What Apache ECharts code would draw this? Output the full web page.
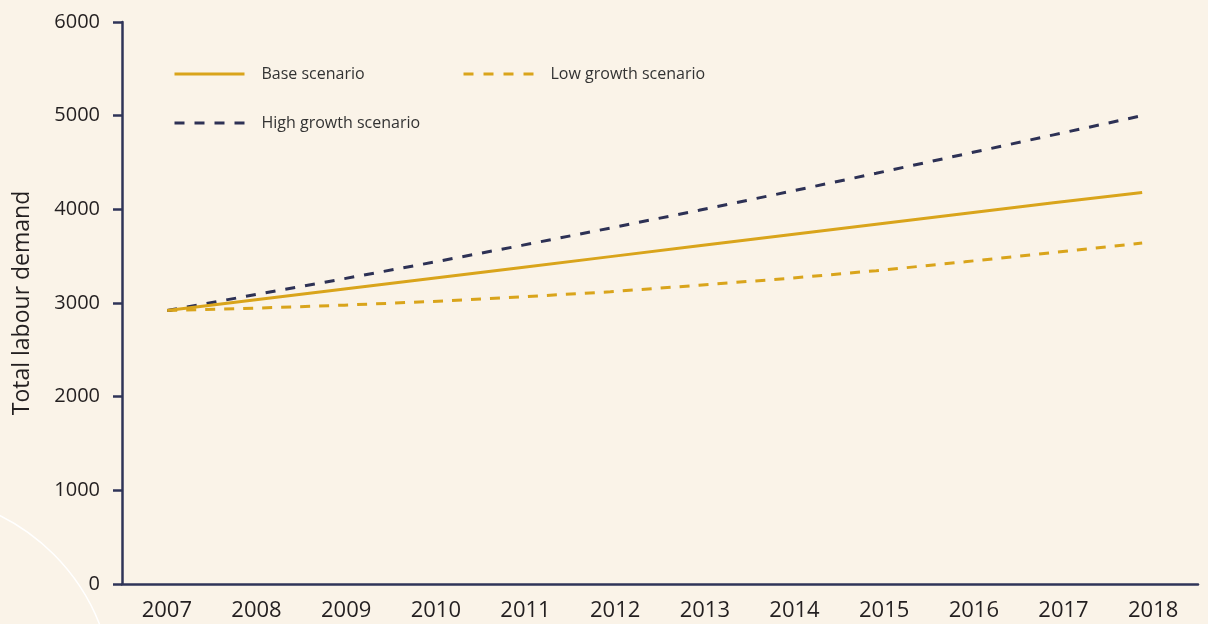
<!DOCTYPE html>
<html lang="en">
<head>
    <meta charset="UTF-8">
    <title>Total labour demand</title>
    <style>
        html, body { margin: 0; padding: 0; background: #FAF3E8; }
        #main { width: 1208px; height: 624px; }
    </style>
</head>
<body>
<div id="main"></div>
<script src="https://cdn.jsdelivr.net/npm/echarts@6/dist/echarts.min.js"></script>
<script>
    var years = ['2007', '2008', '2009', '2010', '2011', '2012', '2013', '2014', '2015', '2016', '2017', '2018'];
    var baseScenario = [2920, 3035, 3150, 3265, 3380, 3495, 3610, 3725, 3840, 3955, 4070, 4180];
    var lowGrowth = [2920, 2945, 2977, 3017, 3065, 3120, 3190, 3262, 3345, 3440, 3540, 3640];
    var highGrowth = [2920, 3090, 3260, 3435, 3615, 3800, 3990, 4185, 4385, 4590, 4795, 5000];
    var yTicks = [0, 1000, 2000, 3000, 4000, 5000, 6000];

    var gold = '#D9A41B';
    var navy = '#2D3155';
    var axisColor = '#2F3458';
    var fontName = 'Open Sans';

    function pairs(arr) {
        return arr.map(function (v, i) { return [Number(years[i]), v]; });
    }

    var myChart = echarts.init(document.getElementById('main'));

    // legend: only the line, no dot
    var legendBase = {
        itemWidth: 70, itemHeight: 14, padding: 0,
        itemStyle: { opacity: 0 },
        textStyle: { fontSize: 16, color: '#333', padding: [0, 0, 0, 12] }
    };

    var option = {
        backgroundColor: '#FAF3E8',
        textStyle: { fontFamily: fontName },
        graphic: [{
            type: 'circle',
            shape: { cx: -92, cy: 700, r: 206 },
            style: { fill: 'none', stroke: '#ffffff', lineWidth: 1.5 },
            silent: true,
            z: -1
        }],
        grid: { left: 122, right: 10, top: 22, bottom: 40 },
        legend: [
            Object.assign({ left: 173, top: 66, lineStyle: { width: 3 }, data: ['Base scenario'] }, legendBase),
            Object.assign({ left: 462, top: 66, lineStyle: { width: 3, type: [10, 10] }, data: ['Low growth scenario'] }, legendBase),
            Object.assign({ left: 173, top: 115, lineStyle: { width: 3, type: [10, 10] }, data: ['High growth scenario'] }, legendBase)
        ],
        xAxis: [{
            type: 'category',
            data: years,
            boundaryGap: true,
            axisLine: { lineStyle: { color: axisColor, width: 2.5 } },
            axisTick: { length: 10, lineStyle: { color: axisColor, width: 2.5 } },
            axisLabel: { fontSize: 22, color: '#231F20', margin: 16 }
        }, {
            type: 'value',
            show: false,
            min: 2006.49,
            max: 2018.63
        }],
        yAxis: {
            type: 'value',
            min: yTicks[0],
            max: yTicks[yTicks.length - 1],
            interval: 1000,
            name: 'Total labour demand',
            nameLocation: 'middle',
            nameGap: 88,
            nameTextStyle: { fontSize: 23, color: '#231F20' },
            axisLine: { show: true, lineStyle: { color: axisColor, width: 2.5 } },
            axisTick: { show: true, length: 9, lineStyle: { color: axisColor, width: 2.5 } },
            axisLabel: {
                fontSize: 20, color: '#231F20', margin: 22,
                formatter: function (v) { return String(v); }
            },
            splitLine: { show: false }
        },
        series: [{
            name: 'Base scenario',
            type: 'line',
            xAxisIndex: 1,
            data: pairs(baseScenario),
            symbol: 'none',
            lineStyle: { color: gold, width: 3 },
            itemStyle: { color: gold },
            z: 3
        }, {
            name: 'Low growth scenario',
            type: 'line',
            xAxisIndex: 1,
            data: pairs(lowGrowth),
            symbol: 'none',
            lineStyle: { color: gold, width: 3, type: [10, 9] },
            itemStyle: { color: gold },
            z: 2
        }, {
            name: 'High growth scenario',
            type: 'line',
            xAxisIndex: 1,
            data: pairs(highGrowth),
            symbol: 'none',
            lineStyle: { color: navy, width: 3, type: [10, 10] },
            itemStyle: { color: navy },
            z: 2
        }]
    };

    myChart.setOption(option);
</script>
</body>
</html>
